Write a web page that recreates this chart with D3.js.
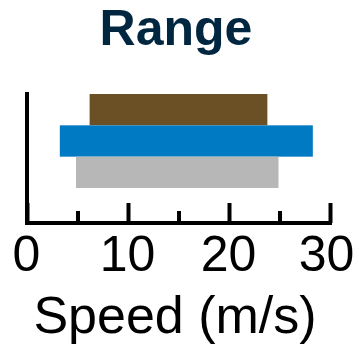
<!DOCTYPE html>
<html><head><meta charset="utf-8">
<script src="https://cdn.jsdelivr.net/npm/d3@7"></script>
<style>html,body{margin:0;padding:0;background:#fff;}svg{display:block;}</style>
</head><body>
<script>
const categories = ["Series 1", "Series 2", "Series 3"];
const lows = [6.2, 3.25, 4.85];
const highs = [23.8, 28.3, 24.9];
const colors = ["#6B4F25", "#007AC2", "#B7B7B7"];
const majorTicks = [0, 10, 20, 30];
const minorTicks = [5, 15, 25];
const title = "Range";
const xLabel = "Speed (m/s)";

const W = 359, H = 347;
const svg = d3.select("body").append("svg").attr("width", W).attr("height", H);
const x = d3.scaleLinear().domain([0, 30]).range([27, 330]);
const y = d3.scaleBand().domain(categories).range([94, 188]).padding(0);
const axisY = 223;

svg.append("text").attr("x", 176).attr("y", 45).attr("text-anchor", "middle")
  .attr("font-family", "Liberation Sans, Arial, sans-serif").attr("font-weight", "bold")
  .attr("font-size", 50).attr("fill", "#002640").text(title);

svg.selectAll("rect.bar").data(categories).enter().append("rect")
  .attr("class", "bar")
  .attr("x", (d, i) => x(lows[i]))
  .attr("width", (d, i) => x(highs[i]) - x(lows[i]))
  .attr("y", d => y(d))
  .attr("height", y.bandwidth())
  .attr("fill", (d, i) => colors[i]);

// y axis line
svg.append("line").attr("x1", x(0)).attr("x2", x(0)).attr("y1", 92).attr("y2", axisY + 2)
  .attr("stroke", "#000").attr("stroke-width", 4);

// x axis
const gx = svg.append("g").attr("transform", `translate(0,${axisY})`);
const ax = d3.axisBottom(x).tickValues(majorTicks).tickSize(-20).tickSizeOuter(0).tickFormat(d3.format("d"));
gx.call(ax);
gx.select(".domain").attr("stroke", "#000").attr("stroke-width", 4)
  .attr("d", `M${x(0)-2},0H${x(30)+2}`);
gx.selectAll(".tick line").attr("stroke", "#000").attr("stroke-width", 4);
gx.selectAll(".tick text").attr("font-family", "Liberation Sans, Arial, sans-serif")
  .attr("font-size", 50).attr("fill", "#000").attr("dy", null).attr("y", 48)
  .attr("x", d => d === 30 ? -4 : (d === 0 ? -1 : -1));

const gm = svg.append("g").attr("transform", `translate(0,${axisY})`);
gm.call(d3.axisBottom(x).tickValues(minorTicks).tickSize(-12).tickSizeOuter(0).tickFormat(""));
gm.select(".domain").remove();
gm.selectAll(".tick line").attr("stroke", "#000").attr("stroke-width", 4);

svg.append("text").attr("x", 175).attr("y", 333).attr("text-anchor", "middle")
  .attr("font-family", "Liberation Sans, Arial, sans-serif")
  .attr("font-size", 52).attr("fill", "#000").text(xLabel);
</script>
</body></html>
